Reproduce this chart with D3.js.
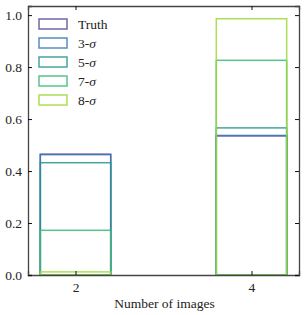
<!DOCTYPE html>
<html>
<head>
<meta charset="utf-8">
<script src="https://d3js.org/d3.v7.min.js"></script>
<style>
body { margin: 0; background: #fff; }
text { font-family: "Liberation Serif", "DejaVu Serif", serif; font-size: 13.5px; fill: #222; }
</style>
</head>
<body>
<div id="chart"></div>
<script>
var images = [2, 4];
var series = ["Truth", "3-σ", "5-σ", "7-σ", "8-σ"];
var colors = ["#5a4a9c", "#3a78b7", "#23958d", "#3cb878", "#9fd83a"];
var values = [
  [0.465, 0.535],   // Truth
  [0.463, 0.537],   // 3-sigma
  [0.432, 0.566],   // 5-sigma
  [0.172, 0.826],   // 7-sigma
  [0.012, 0.986]    // 8-sigma
];
var yTicks = [0, 0.2, 0.4, 0.6, 0.8, 1.0];

var W = 306, H = 315;
var margin = {top: 6, right: 7, bottom: 40, left: 28};
var width = W - margin.left - margin.right,
    height = H - margin.top - margin.bottom;

var svg = d3.select("#chart").append("svg")
  .attr("width", W).attr("height", H);
var g = svg.append("g")
  .attr("transform", "translate(" + margin.left + "," + margin.top + ")");

var x = d3.scaleLinear().domain([1.46, 4.54]).range([0, width]);
var y = d3.scaleLinear().domain([0, 1.035]).range([height, 0]);
var barW = 0.8;

// bars, outlined only
series.forEach(function(s, i) {
  g.selectAll(".bar" + i)
    .data(images.map(function(n, j) { return {n: n, v: values[i][j]}; }))
    .enter().append("rect")
    .attr("x", function(d) { return x(d.n - barW / 2); })
    .attr("width", function(d) { return x(d.n + barW / 2) - x(d.n - barW / 2); })
    .attr("y", function(d) { return y(d.v); })
    .attr("height", function(d) { return y(0) - y(d.v); })
    .attr("fill", "none")
    .attr("stroke", colors[i])
    .attr("stroke-opacity", 0.85)
    .attr("stroke-width", 1.5);
});

// axes, ticks pointing inward
var tickLen = 4;
g.append("g").attr("transform", "translate(0," + height + ")")
  .call(d3.axisBottom(x).tickValues(images).tickSize(-tickLen).tickPadding(7).tickFormat(d3.format("d")));
g.append("g").attr("transform", "translate(0,0)")
  .call(d3.axisTop(x).tickValues(images).tickSize(-tickLen).tickFormat(""));
g.append("g")
  .call(d3.axisLeft(y).tickValues(yTicks).tickSize(-tickLen).tickPadding(6).tickFormat(d3.format(".1f")));
g.append("g").attr("transform", "translate(" + width + ",0)")
  .call(d3.axisRight(y).tickValues(yTicks).tickSize(-tickLen).tickFormat(""));

g.selectAll(".domain").attr("stroke", "#444").attr("stroke-width", 1.3);
g.selectAll(".tick line").attr("stroke", "#111").attr("stroke-width", 1);
g.selectAll(".tick text").style("font-family", "'Liberation Serif', serif").style("font-size", "13.5px").attr("fill", "#222");

g.append("text")
  .attr("x", width / 2 + 1).attr("y", height + 33)
  .attr("text-anchor", "middle")
  .text("Number of images");

// legend
var legend = g.selectAll(".legend")
  .data(series)
  .enter().append("g")
  .attr("transform", function(d, i) { return "translate(11," + (13 + i * 19) + ")"; });
legend.append("rect")
  .attr("x", 0).attr("y", 0).attr("width", 28).attr("height", 10)
  .attr("fill", "none")
  .attr("stroke", function(d, i) { return colors[i]; })
  .attr("stroke-opacity", 0.85)
  .attr("stroke-width", 1.5);
legend.append("text")
  .attr("x", 39).attr("y", 10)
  .each(function(d) {
    var t = d3.select(this);
    if (d === "Truth") { t.text(d); return; }
    var parts = d.split("σ");
    t.append("tspan").text(parts[0]);
    t.append("tspan").style("font-style", "italic").text("σ");
  });
</script>
</body>
</html>
